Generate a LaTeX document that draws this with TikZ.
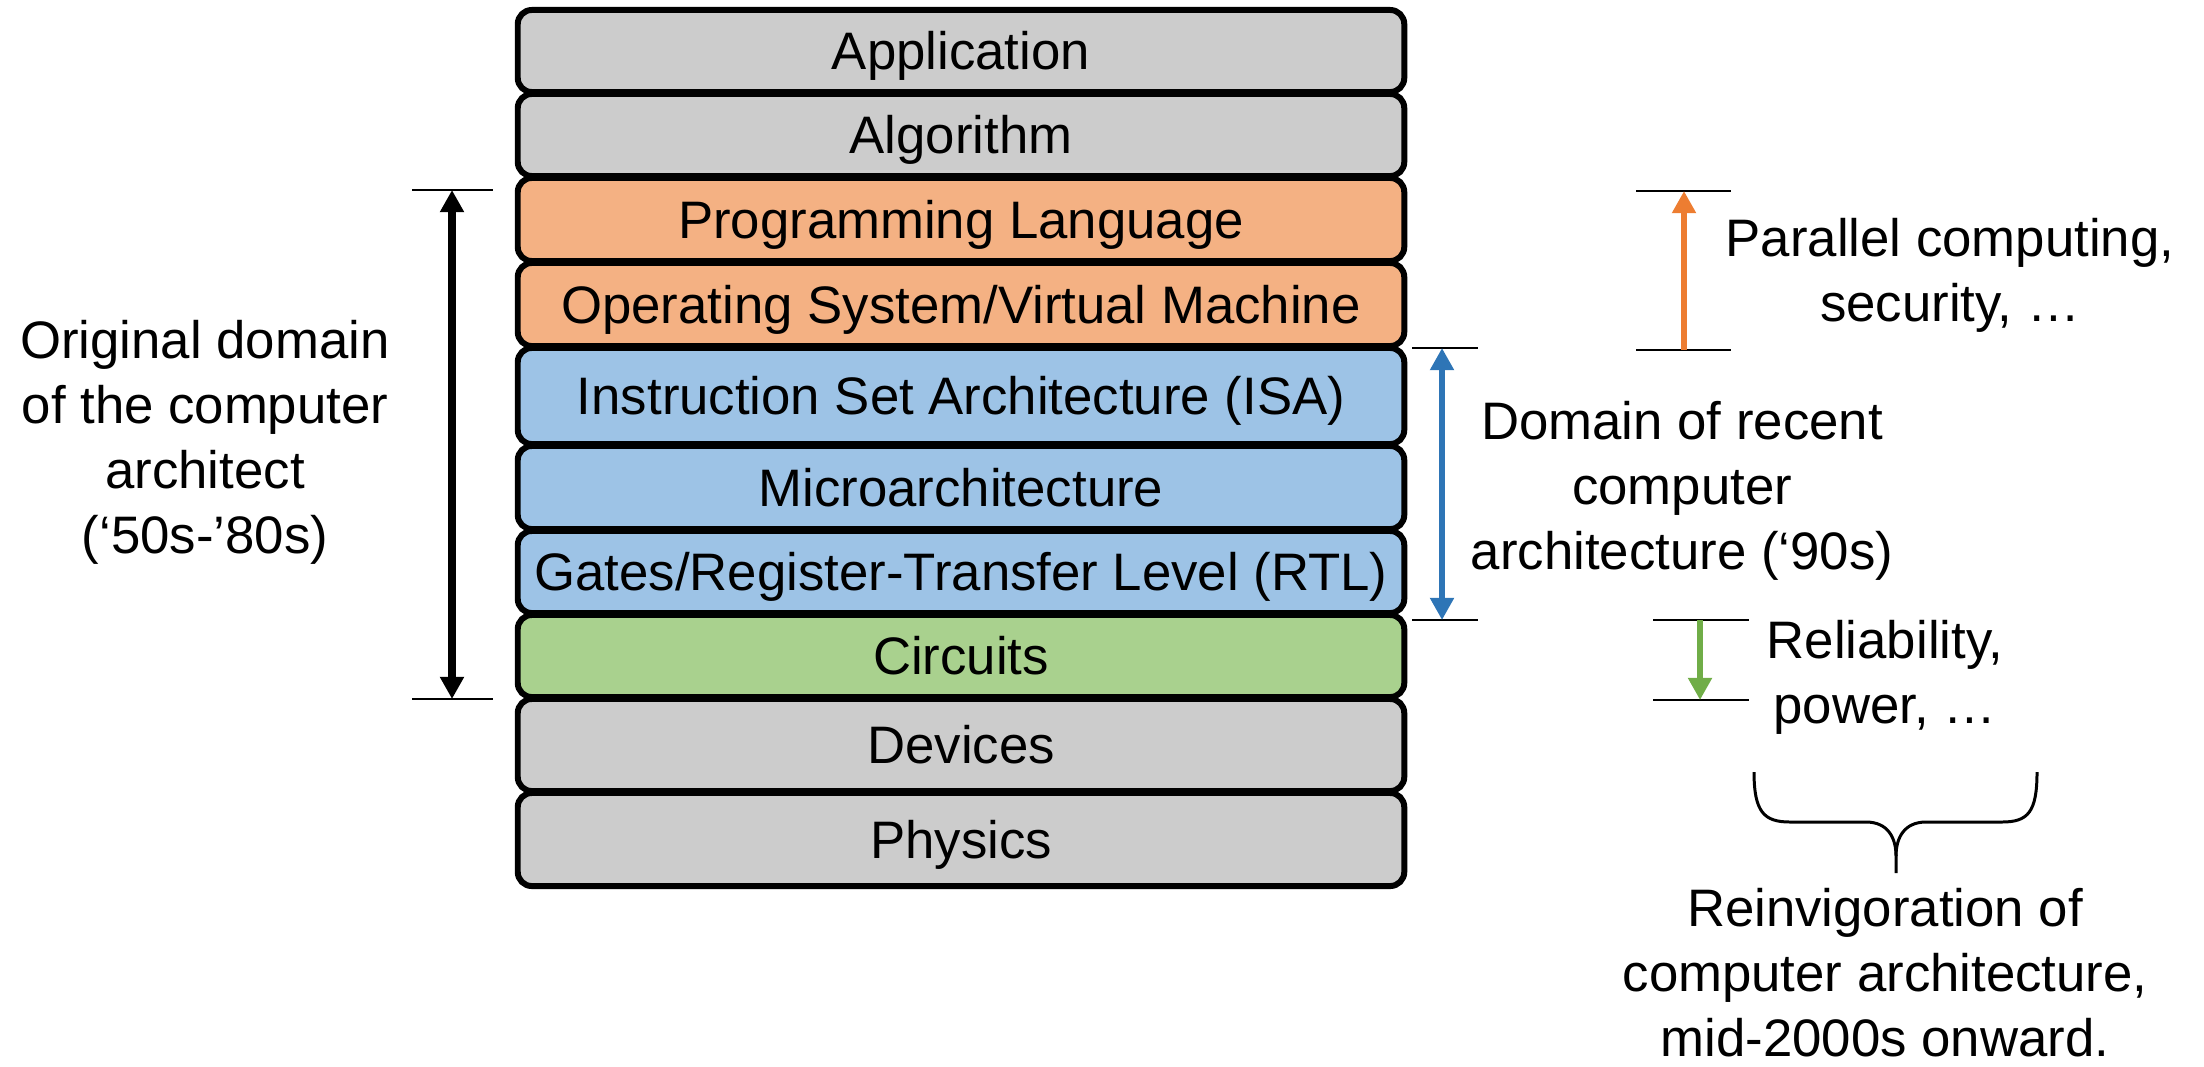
\documentclass[tikz,border=0pt]{standalone}
\usepackage{fontspec}
\setmainfont{Liberation Sans}
\usetikzlibrary{arrows.meta}
\definecolor{laygray}{HTML}{CCCCCC}
\definecolor{layorange}{HTML}{F4B183}
\definecolor{layblue}{HTML}{9DC3E6}
\definecolor{laygreen}{HTML}{A9D18E}
\definecolor{arrorange}{HTML}{ED7D31}
\definecolor{arrblue}{HTML}{2E75B6}
\definecolor{arrgreen}{HTML}{70AD47}
\begin{document}
\begin{tikzpicture}[x=0.01cm,y=-0.01cm,
  font=\fontsize{15}{18.5}\selectfont,
  layer/.style={draw=black, line width=1.7pt, rounded corners=4pt,
    minimum width=8.86cm, inner sep=0pt, outer sep=0pt,
    text height=10.7pt, text depth=0pt},
  lbl/.style={align=center, inner sep=0pt},
  tickline/.style={line width=0.5pt, draw=black},
  tipA/.tip={Triangle[width=6.5pt,length=6.3pt]},
  dimarrow/.style={line width=1.7pt}]
\useasboundingbox (0,0) rectangle (2204,1066);

% layer stack
\node[layer, fill=laygray,   minimum height=0.82cm] (app)   at (961,51)    {Application};
\node[layer, fill=laygray,   minimum height=0.82cm] (alg)   at (961,135)   {Algorithm};
\node[layer, fill=layorange, minimum height=0.83cm] (pl)    at (961,219.5) {Programming Language};
\node[layer, fill=layorange, minimum height=0.83cm] (os)    at (961,304.5) {Operating System/Virtual Machine};
\node[layer, fill=layblue,   minimum height=0.96cm] (isa)   at (961,396)   {Instruction Set Architecture (ISA)};
\node[layer, fill=layblue,   minimum height=0.83cm] (micro) at (961,487.5) {Microarchitecture};
\node[layer, fill=layblue,   minimum height=0.82cm] (rtl)   at (961,572)   {Gates/Register-Transfer Level (RTL)};
\node[layer, fill=laygreen,  minimum height=0.82cm] (circ)  at (961,656)   {Circuits};
\node[layer, fill=laygray,   minimum height=0.92cm] (dev)   at (961,745)   {Devices};
\node[layer, fill=laygray,   minimum height=0.93cm] (phys)  at (961,839.5) {Physics};

% black dimension arrow (original domain)
\coordinate (bkTl) at (412,190); \coordinate (bkTr) at (493,190);
\coordinate (bkBl) at (412,699); \coordinate (bkBr) at (493,699);
\coordinate (bkT) at (452,190); \coordinate (bkB) at (452,699);
\draw[tickline] (bkTl) -- (bkTr);
\draw[tickline] (bkBl) -- (bkBr);
\draw[line width=2pt, {tipA}-{tipA}] (bkT) -- (bkB);
\node[lbl] (orig) at (205,442) {Original domain\\of the computer\\architect\\(‘50s-’80s)};

% blue dimension arrow (recent domain)
\coordinate (blTl) at (1412,348); \coordinate (blTr) at (1478,348);
\coordinate (blBl) at (1412,620); \coordinate (blBr) at (1478,620);
\coordinate (blT) at (1442,348); \coordinate (blB) at (1442,620);
\draw[tickline] (blTl) -- (blTr);
\draw[tickline] (blBl) -- (blBr);
\draw[dimarrow, draw=arrblue, fill=arrblue, {tipA}-{tipA}] (blT) -- (blB);
\node[lbl] (recent) at (1682,491) {Domain of recent\\computer\\architecture (‘90s)};

% orange arrow (parallel computing)
\coordinate (orTl) at (1636,191); \coordinate (orTr) at (1731,191);
\coordinate (orBl) at (1636,350); \coordinate (orBr) at (1731,350);
\coordinate (orT) at (1684,191); \coordinate (orB) at (1684,350);
\draw[tickline] (orTl) -- (orTr);
\draw[tickline] (orBl) -- (orBr);
\draw[dimarrow, draw=arrorange, fill=arrorange, -{tipA}] (orB) -- (orT);
\node[lbl] (par) at (1950,275) {Parallel computing,\\security, …};

% green arrow (reliability)
\coordinate (grTl) at (1653,620); \coordinate (grTr) at (1749,620);
\coordinate (grBl) at (1653,700); \coordinate (grBr) at (1749,700);
\coordinate (grT) at (1700,620); \coordinate (grB) at (1700,700);
\draw[tickline] (grTl) -- (grTr);
\draw[tickline] (grBl) -- (grBr);
\draw[dimarrow, draw=arrgreen, fill=arrgreen, -{tipA}] (grT) -- (grB);
\node[lbl] (rel) at (1885,677) {Reliability,\\power, …};

% brace
\coordinate (brL) at (1754,772);
\coordinate (brR) at (2037,772);
\coordinate (brTip) at (1896,873);
\draw[line width=0.85pt, line join=round]
  (brL) .. controls (1754,812) and (1764,822) .. (1790,822)
  -- (1866,822) .. controls (1888,822) and (1896,838) .. (1896,856) -- (brTip);
\draw[line width=0.85pt, line join=round]
  (brR) .. controls (2037,812) and (2028,822) .. (2002,822)
  -- (1926,822) .. controls (1904,822) and (1896,838) .. (1896,856);
\node[lbl] (reinv) at (1885,973) {Reinvigoration of\\computer architecture,\\mid-2000s onward.};
\end{tikzpicture}
\end{document}
